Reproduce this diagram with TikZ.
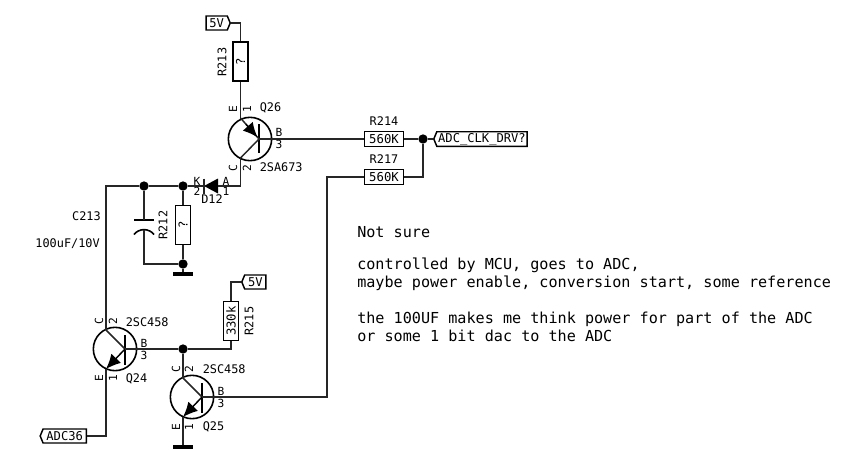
\documentclass[tikz,border=0pt]{standalone}
\usepackage{fontspec}
\setmainfont{DejaVu Sans Mono}
\usetikzlibrary{positioning,shapes.symbols,arrows.meta,calc}

\begin{document}
\begin{tikzpicture}[
    x=0.75pt, y=-0.75pt,
    node distance=1.5pt,
    wire/.style={line width=1.1pt, black!85},
    res/.style={rectangle, draw, line width=1.1pt, fill=white, minimum width=29.5pt, minimum height=11.5pt, inner sep=0pt, font=\fontsize{9.2}{10}\selectfont},
    vres/.style={res, rotate=90},
    flag/.style={signal, draw, line width=1.1pt, fill=white, signal from=nowhere, signal pointer angle=135, inner sep=1pt, minimum height=10.5pt, font=\fontsize{9.1}{10}\selectfont},
    body/.style={circle, draw, line width=1.2pt, minimum size=32.5pt, inner sep=0pt},
    dot/.style={circle, fill=black, minimum size=7pt, inner sep=0pt},
    gnd/.style={rectangle, fill=black, minimum width=15pt, minimum height=3pt, inner sep=0pt},
    tip/.style={-{Latex[length=11pt,width=10pt]}, line width=1.1pt},
    lab/.style={font=\fontsize{8.9}{10}\selectfont, inner sep=0pt},
    pin/.style={font=\fontsize{8.4}{9}\selectfont, inner sep=0pt},
    note/.style={font=\fontsize{11.35}{13}\selectfont, inner sep=0pt, anchor=base west}
]
\useasboundingbox (0,0) rectangle (860,450);

% Transistors
\node[body] (q26) at (250,139) {};
\node[body] (q24) at (115,349) {};
\node[body] (q25) at (192,397) {};

% Resistors
\node[vres] (r213) at (240.5,61.5) {?};
\node[vres] (r212) at (183,225) {?};
\node[vres] (r215) at (231,321) {330k};
\node[res] (r214) at (384,139) {560K};
\node[res] (r217) at (384,177) {560K};
\node[lab, above=4pt of r214] (r214lab) {R214};
\node[lab, above=4pt of r217] (r217lab) {R217};
\node[lab, rotate=90] (r213lab) at (222,62) {R213};
\node[lab, rotate=90] (r212lab) at (163,225) {R212};
\node[lab, rotate=90] (r215lab) at (249,321) {R215};

% Flags
\node[flag, signal to=east, anchor=east, inner xsep=2.5pt] (v5a) at (231,23) {5V};
\node[flag, signal to=west, anchor=west, inner xsep=2.5pt] (v5b) at (241,282) {5V};
\node[flag, signal to=west, anchor=east, inner xsep=2.5pt] (adc36) at (87,436) {ADC36};
\node[flag, signal to=west, anchor=west] (adcclk) at (433,139) {ADC\_CLK\_DRV?};

% Junctions and ground
\node[dot] (j1) at (144,186) {};
\node[dot] (j2) at (183,186) {};
\node[dot] (j3) at (183,264) {};
\node[dot] (j4) at (183,349) {};
\node[dot] (j5) at (423,139) {};
\node[gnd] (gnd1) at (183,274) {};
\node[gnd] (gnd2) at (183,447) {};

% Pin points
\coordinate (q26b) at (259,139);
\coordinate (q26e) at (240.5,118);
\coordinate (q26c) at (240.5,158);
\coordinate (q24b) at (125,349);
\coordinate (q24c) at (106,330);
\coordinate (q24e) at (106,369);
\coordinate (q25b) at (202,397);
\coordinate (q25c) at (183,378);
\coordinate (q25e) at (183,417);
\coordinate (d12k) at (204,186);
\coordinate (d12a) at (218,186);
\coordinate (cap1) at (144,220);
\coordinate (cap2) at (144,229.5);

% Transistor insides
\draw[line width=1.2pt] (259,124) -- (259,153);
\draw[line width=1.2pt] (125,335) -- (125,365);
\draw[line width=1.2pt] (202,383) -- (202,413);
\draw[wire] (q26e) -- (q26b) -- (q26c);
\draw[tip] ($(q26e)!0.3!(q26b)$) -- ($(q26e)!0.92!(q26b)$);
\draw[wire] (q24c) -- (q24b);
\draw[tip] (q24b) -- (q24e);
\draw[wire] (q25c) -- (q25b);
\draw[tip] (q25b) -- (q25e);

% Diode
\fill (d12a) ++(0,-7.5) -- (d12k) -- ($(d12a)+(0,7.5)$) -- cycle;
\draw[wire] ($(d12k)+(0,-7.5)$) -- ($(d12k)+(0,7.5)$);

% Capacitor
\draw[line width=1.2pt] ($(cap1)+(-10,0)$) -- ($(cap1)+(10,0)$);
\draw[line width=1.2pt] (134,234.5) .. controls (139,228) and (149,228) .. (154,234.5);

% Wires
\draw[wire] (v5a.east) -| (r213.east);
\draw[wire] (r213.west) -- (q26e);
\draw[wire] (q26c) |- (d12a);
\draw[wire] (d12k) -- (j2) -- (j1) -| (q24c);
\draw[wire] (j1) -- (cap1);
\draw[wire] (cap2) |- (j3);
\draw[wire] (j2) -- (r212.east);
\draw[wire] (r212.west) -- (j3) -- (gnd1);
\draw[wire] (q26b) -- (r214.west);
\draw[wire] (r214.east) -- (j5) -- (adcclk.west);
\draw[wire] (r217.east) -| (j5);
\draw[wire] (q25b) -| (327,177) -- (r217.west);
\draw[wire] (q24b) -- (j4) -| (r215.west);
\draw[wire] (r215.east) |- (v5b.west);
\draw[wire] (j4) -- (q25c);
\draw[wire] (q25e) -- (gnd2);
\draw[wire] (q24e) |- (adc36.east);

% Part labels
\node[lab, anchor=west] (q26lab) at (259.5,108) {Q26};
\node[lab, anchor=west] (q26val) at (259.5,167) {2SA673};
\node[lab, anchor=west] (q24lab) at (125.5,379) {Q24};
\node[lab, anchor=west] (q24val) at (125.5,322) {2SC458};
\node[lab, anchor=west] (q25lab) at (202.5,427) {Q25};
\node[lab, anchor=west] (q25val) at (202.5,369) {2SC458};
\node[lab, anchor=west] (d12lab) at (201,199) {D12};
\node[lab, anchor=east] (c213lab) at (101,216) {C213};
\node[lab, anchor=east] (c213val) at (100,244) {100uF/10V};

% Pin labels
\foreach \tx/\ty/\txt/\rot in {233/109/E/90, 247/109/1/90, 233/168/C/90, 247/168/2/90, 279/132/B/0, 279/144/3/0,
    197/181/K/0, 197/191/2/0, 226/181/A/0, 226/191/1/0,
    99/321/C/90, 113/321/2/90, 99/378/E/90, 113/378/1/90, 144/343/B/0, 144/355/3/0,
    176/369/C/90, 189/369/2/90, 176/427/E/90, 189/427/1/90, 221/391/B/0, 221/403/3/0}
    \node[pin, rotate=\rot] at (\tx,\ty) {\txt};

% Notes
\node[note] (n1) at (357,237) {Not sure};
\node[note] (n2) at (357,269) {controlled by MCU, goes to ADC,};
\node[note] (n3) at (357,287) {maybe power enable, conversion start, some reference};
\node[note] (n4) at (357,323) {the 100UF makes me think power for part of the ADC};
\node[note] (n5) at (357,341) {or some 1 bit dac to the ADC};

\end{tikzpicture}
\end{document}
